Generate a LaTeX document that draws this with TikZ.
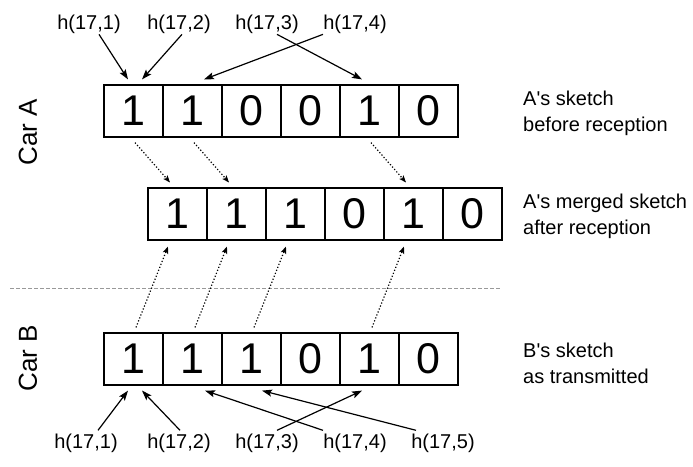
\documentclass[tikz,border=0pt]{standalone}
\usepackage{fontspec}
\setmainfont{Liberation Sans}
\usetikzlibrary{arrows.meta,calc}
\begin{document}
\begin{tikzpicture}[x=1pt,y=-1pt,
 cell/.style={draw,line width=1.2pt,minimum width=59pt,minimum height=52pt,inner sep=0pt,font=\fontsize{43}{43}\selectfont},
 lab/.style={inner sep=0pt,font=\fontsize{20}{20}\selectfont,anchor=base},
 note/.style={inner sep=0pt,font=\fontsize{20}{26}\selectfont,align=left,anchor=west},
 car/.style={inner sep=0pt,font=\fontsize{26}{26}\selectfont,rotate=90},
 harrow/.style={line width=1.2pt,-{Stealth[length=10pt,width=7pt,inset=2pt]}},
 darrow/.style={line width=1.2pt,dotted,-{Stealth[length=7pt,width=5.5pt,inset=1.5pt]}},
 sep/.style={gray!80,line width=0.8pt,dash pattern=on 4pt off 2pt},
]
\useasboundingbox (0,0) rectangle (693,466);

% arrays
\foreach \d [count=\i] in {1,1,0,0,1,0} {\node[cell] (a\i) at ({74.5+59*\i},111) {\d};}
\foreach \d [count=\i] in {1,1,1,0,1,0} {\node[cell] (m\i) at ({118.5+59*\i},214) {\d};}
\foreach \d [count=\i] in {1,1,1,0,1,0} {\node[cell] (b\i) at ({74.5+59*\i},359) {\d};}

% side labels
\node[car] (carA) at (28,132) {Car A};
\node[car] (carB) at (28,358) {Car B};

% notes
\node[note] (na) at (523,113) {A\textquotesingle s sketch\\before reception};
\node[note] (nm) at (523,216) {A\textquotesingle s merged sketch\\after reception};
\node[note] (nb) at (523,363) {B\textquotesingle s sketch\\as transmitted};

% separator
\coordinate (sl) at (10,288);
\coordinate (sr) at (500,288);
\draw[sep] (sl) -- (sr);

% top hash labels
\node[lab] (t1) at (89,29) {h(17,1)};
\node[lab] (t2) at (179,29) {h(17,2)};
\node[lab] (t3) at (267,29) {h(17,3)};
\node[lab] (t4) at (355,29) {h(17,4)};

\draw[harrow] ([xshift=10pt,yshift=-1pt]t1.south) -- ([xshift=-5.5pt,yshift=5pt]a1.north);
\draw[harrow] ([xshift=3pt,yshift=-1pt]t2.south) -- ([xshift=8.5pt,yshift=5pt]a1.north);
\draw[harrow] ([xshift=-32pt,yshift=-1pt]t4.south) -- ([xshift=11.5pt,yshift=5pt]a2.north);
\draw[harrow] ([xshift=10pt,yshift=-1pt]t3.south) -- ([xshift=-7.5pt,yshift=5pt]a5.north);

% dotted: A -> merged
\foreach \i in {1,2,5} {\draw[darrow] ([xshift=1.5pt,yshift=-5pt]a\i.south) -- ([xshift=-7.5pt,yshift=5pt]m\i.north);}
% dotted: B -> merged
\foreach \i in {1,2,3,5} {\draw[darrow] ([xshift=2.5pt,yshift=5pt]b\i.north) -- ([xshift=-9.5pt,yshift=-6pt]m\i.south);}

% bottom hash labels
\node[lab] (u1) at (86,448) {h(17,1)};
\node[lab] (u2) at (179,448) {h(17,2)};
\node[lab] (u3) at (267,448) {h(17,3)};
\node[lab] (u4) at (355,448) {h(17,4)};
\node[lab] (u5) at (443,448) {h(17,5)};

\draw[harrow] ([xshift=12pt,yshift=3pt]u1.north) -- ([xshift=-5.5pt,yshift=-5pt]b1.south);
\draw[harrow] ([xshift=1pt,yshift=3pt]u2.north) -- ([xshift=8.5pt,yshift=-5pt]b1.south);
\draw[harrow] ([xshift=10pt,yshift=3pt]u3.north) -- ([xshift=-7.5pt,yshift=-5pt]b5.south);
\draw[harrow] ([xshift=-32pt,yshift=3pt]u4.north) -- ([xshift=12.5pt,yshift=-5pt]b2.south);
\draw[harrow] ([xshift=-27pt,yshift=3pt]u5.north) -- ([xshift=10.5pt,yshift=-5pt]b3.south);
\end{tikzpicture}
\end{document}
